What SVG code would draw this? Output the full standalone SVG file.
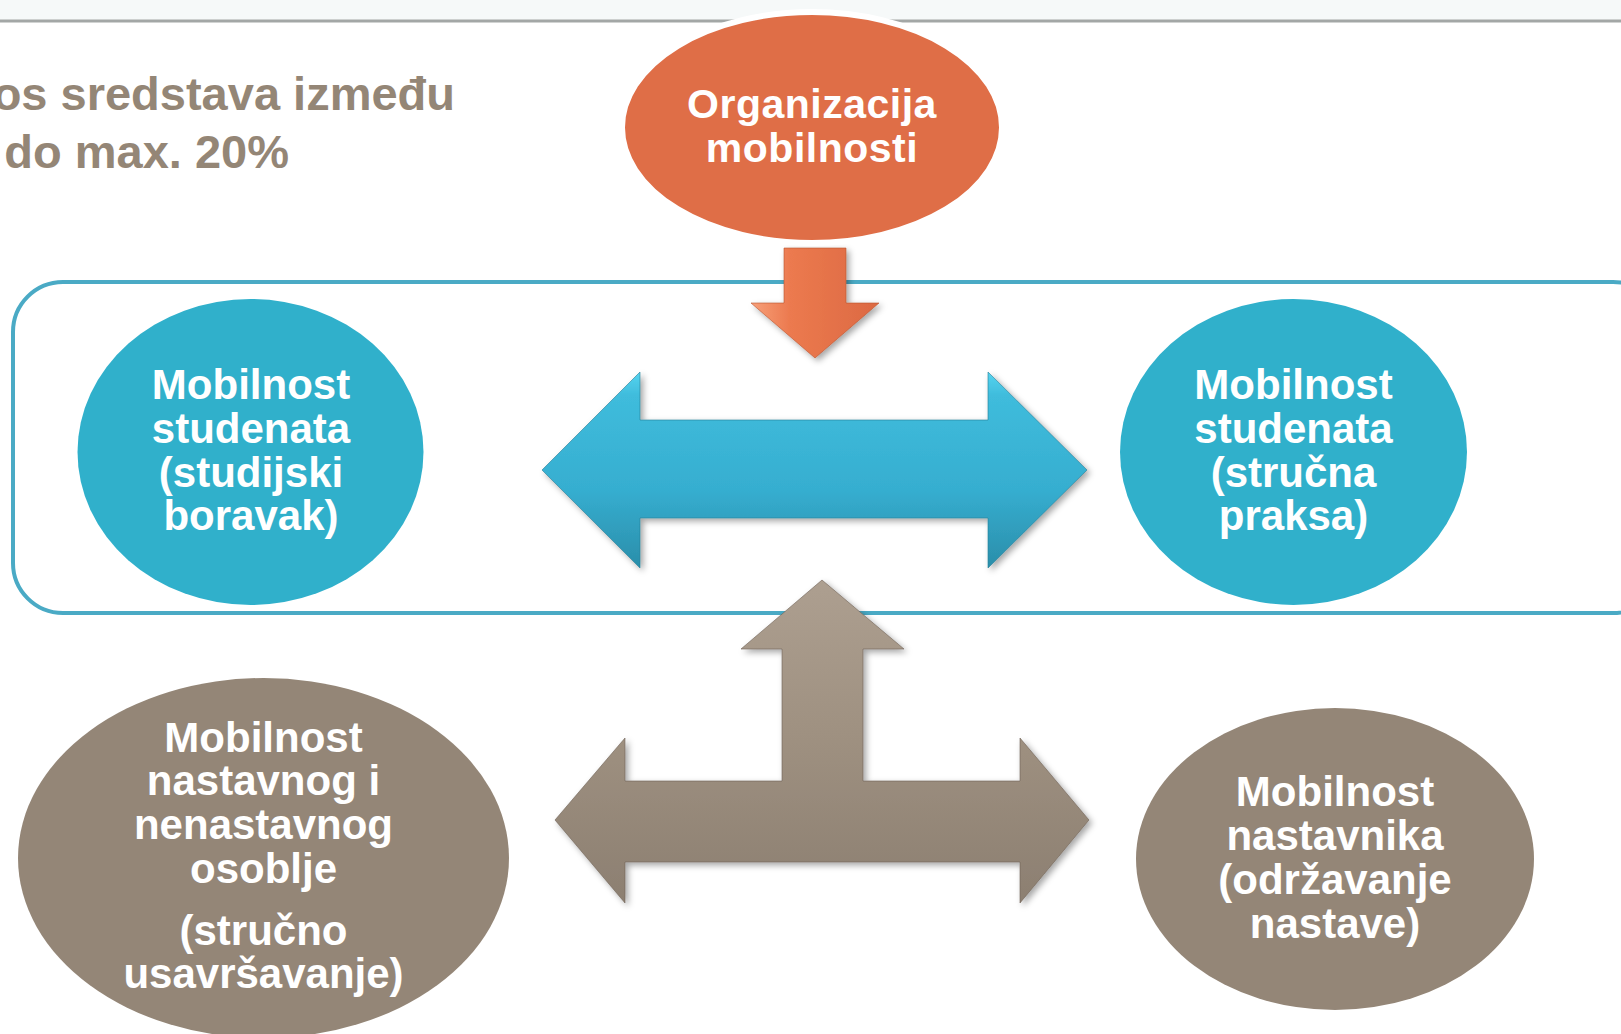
<svg xmlns="http://www.w3.org/2000/svg" width="1621" height="1034" viewBox="0 0 1621 1034">
<defs>
<style>
.t{font-family:"Liberation Sans",Arial,sans-serif;font-weight:bold;fill:#ffffff;font-size:42px;text-anchor:middle}
.to{font-family:"Liberation Sans",Arial,sans-serif;font-weight:bold;fill:#ffffff;font-size:41px;letter-spacing:0.5px;text-anchor:middle}
.head{font-family:"Liberation Sans",Arial,sans-serif;font-weight:bold;fill:#948676;font-size:47px;text-anchor:end}
</style>
<linearGradient id="gBlue" x1="0" y1="0" x2="0" y2="1">
<stop offset="0" stop-color="#56d4f0"/>
<stop offset="0.12" stop-color="#3fbcdc"/>
<stop offset="0.6" stop-color="#36aed0"/>
<stop offset="1" stop-color="#2a8eaa"/>
</linearGradient>
<linearGradient id="gOrange" x1="0" y1="0" x2="1" y2="0">
<stop offset="0" stop-color="#f7a07a"/>
<stop offset="0.3" stop-color="#ec7a4f"/>
<stop offset="1" stop-color="#dc6942"/>
</linearGradient>
<linearGradient id="gGray" x1="0" y1="0" x2="0" y2="1">
<stop offset="0" stop-color="#ad9f90"/>
<stop offset="0.5" stop-color="#9e9080"/>
<stop offset="1" stop-color="#8c7f71"/>
</linearGradient>
<filter id="sh" x="-10%" y="-10%" width="130%" height="130%">
<feDropShadow dx="3" dy="3" stdDeviation="3" flood-color="#000" flood-opacity="0.35"/>
</filter>
</defs>
<rect x="0" y="0" width="1621" height="1034" fill="#ffffff"/>
<rect x="0" y="0" width="1621" height="20" fill="#f6f9f9"/>
<line x1="0" y1="21" x2="1621" y2="21" stroke="#a3a7a6" stroke-width="3"/>
<g id="title">
<text class="head" x="455" y="110">os sredstava između</text>
<text class="head" x="289" y="168">do max. 20%</text>
</g>
<rect id="frame" x="13" y="282" width="1650" height="331" rx="50" ry="50" fill="none" stroke="#4aaac5" stroke-width="4"/>
<g id="connectors">
<path id="arrow-orange" d="M784,248 L846,248 L846,303 L879,303 L815,358 L751,303 L784,303 Z" fill="url(#gOrange)" stroke="#b9532f" stroke-width="1" stroke-opacity="0.6" filter="url(#sh)"/>
<path id="arrow-blue" d="M542,470 L640,372 L640,420 L988,420 L988,372 L1087,470 L988,568 L988,518 L640,518 L640,568 Z" fill="url(#gBlue)" stroke="#267f98" stroke-width="1" stroke-opacity="0.6" filter="url(#sh)"/>
<path id="arrow-gray" d="M822,580 L904,649 L863,649 L863,781 L1020,781 L1020,738 L1089,820 L1020,903 L1020,862 L625,862 L625,903 L555,820 L625,738 L625,781 L782,781 L782,649 L741,649 Z" fill="url(#gGray)" stroke="#6f6357" stroke-width="1" stroke-opacity="0.6" filter="url(#sh)"/>
</g>
<g id="n-organizacija">
<ellipse cx="812" cy="127.5" rx="190" ry="115.5" fill="#df6e47" stroke="#ffffff" stroke-width="6"/>
<text class="to" x="812" y="118">Organizacija</text>
<text class="to" x="812" y="162">mobilnosti</text>
</g>
<g id="n-studenti-boravak">
<ellipse cx="250.5" cy="452" rx="173" ry="153" fill="#30b0cb"/>
<text class="t" x="251" y="399">Mobilnost</text>
<text class="t" x="251" y="443">studenata</text>
<text class="t" x="251" y="487">(studijski</text>
<text class="t" x="251" y="530">boravak)</text>
</g>
<g id="n-studenti-praksa">
<ellipse cx="1293.5" cy="452" rx="173.5" ry="153" fill="#30b0cb"/>
<text class="t" x="1293.5" y="399">Mobilnost</text>
<text class="t" x="1293.5" y="443">studenata</text>
<text class="t" x="1293.5" y="487">(stručna</text>
<text class="t" x="1293.5" y="530">praksa)</text>
</g>
<g id="n-osoblje">
<ellipse cx="263.5" cy="858" rx="245.5" ry="180" fill="#948677"/>
<text class="t" x="263.5" y="752">Mobilnost</text>
<text class="t" x="263.5" y="795">nastavnog i</text>
<text class="t" x="263.5" y="839">nenastavnog</text>
<text class="t" x="263.5" y="883">osoblje</text>
<text class="t" x="263.5" y="945">(stručno</text>
<text class="t" x="263.5" y="988">usavršavanje)</text>
</g>
<g id="n-nastavnici">
<ellipse cx="1335" cy="859" rx="199" ry="151" fill="#948677"/>
<text class="t" x="1335" y="806">Mobilnost</text>
<text class="t" x="1335" y="850">nastavnika</text>
<text class="t" x="1335" y="894">(održavanje</text>
<text class="t" x="1335" y="938">nastave)</text>
</g>
</svg>
